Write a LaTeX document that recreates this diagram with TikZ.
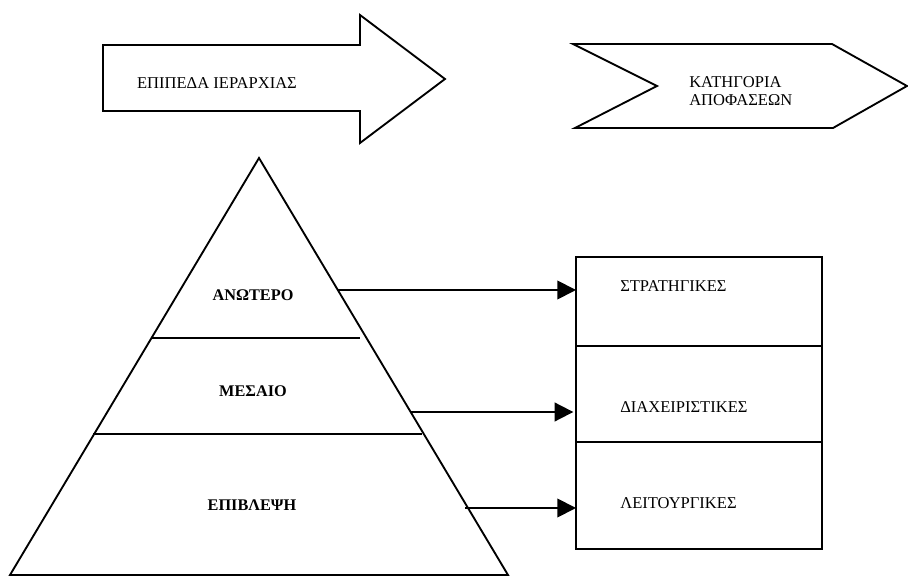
\documentclass[tikz,border=0pt]{standalone}
\usepackage{fontspec}
\setmainfont{Liberation Serif}
\usetikzlibrary{arrows.meta}
\begin{document}
\begin{tikzpicture}[x=0.75pt,y=-0.75pt]

    \tikzset{
      outline/.style={
        color=black,
        line width=1.4pt,
        line join=miter,
      },
      txt/.style={
        font=\fontsize{12.4}{14}\selectfont,
        inner sep=0pt,
      },
      level/.style={
        font=\fontsize{12.2}{14}\selectfont\bfseries,
        inner sep=0pt,
      },
      row/.style={
        draw,
        line width=1.4pt,
        rectangle,
        anchor=north west,
        minimum width=184.5pt,
        inner sep=0pt,
        outer sep=0pt,
      },
      link/.style={
        line width=1.4pt,
        -{Triangle[length=14pt,width=14pt]},
      },
    }
    \useasboundingbox (0,0) rectangle (908,577);
    	\draw[outline] (103,45)--(360,45)--(360,15)--(445,79)--(360,143)--(360,111)--(103,111)--cycle;
	\node[txt] (hier) at (217,83) {ΕΠΙΠΕΔΑ ΙΕΡΑΡΧΙΑΣ};
	\draw[outline] (573,44)--(832,44)--(907,86)--(833,128)--(575,128)--(657,86)--cycle;
	\node[txt, anchor=west, align=left] (kind) at (689,91) {ΚΑΤΗΓΟΡΙΑ\\ΑΠΟΦΑΣΕΩΝ};

	\draw[outline] (10,575)--(259,158)--(508,575)--cycle;
	\draw[outline] (152,338)--(360,338);
	\draw[outline] (93,434)--(422,434);
	\node[level] (upper) at (253,295) {ΑΝΩΤΕΡΟ};
	\node[level] (middle) at (253,391) {ΜΕΣΑΙΟ};
	\node[level] (lower) at (252,505) {ΕΠΙΒΛΕΨΗ};

	\node[row, minimum height=66.75pt] (strat) at (576,257) {};
	\node[row, minimum height=72pt] (manage) at (strat.south west) {};
	\node[row, minimum height=80.25pt] (oper) at (manage.south west) {};
	\node[txt, anchor=west] (stratname) at (620,286) {ΣΤΡΑΤΗΓΙΚΕΣ};
	\node[txt, anchor=west] (managename) at (620,407) {ΔΙΑΧΕΙΡΙΣΤΙΚΕΣ};
	\node[txt, anchor=west] (opername) at (620,503) {ΛΕΙΤΟΥΡΓΙΚΕΣ};

	\coordinate (s1) at (337,290);
	\coordinate (s2) at (410,412);
	\coordinate (s3) at (465,508);
	\draw[link] (s1) -- (s1 -| strat.west);
	\draw[link, shorten >=2pt] (s2) -- (s2 -| manage.west);
	\draw[link] (s3) -- (s3 -| oper.west);

\end{tikzpicture}
\end{document}
